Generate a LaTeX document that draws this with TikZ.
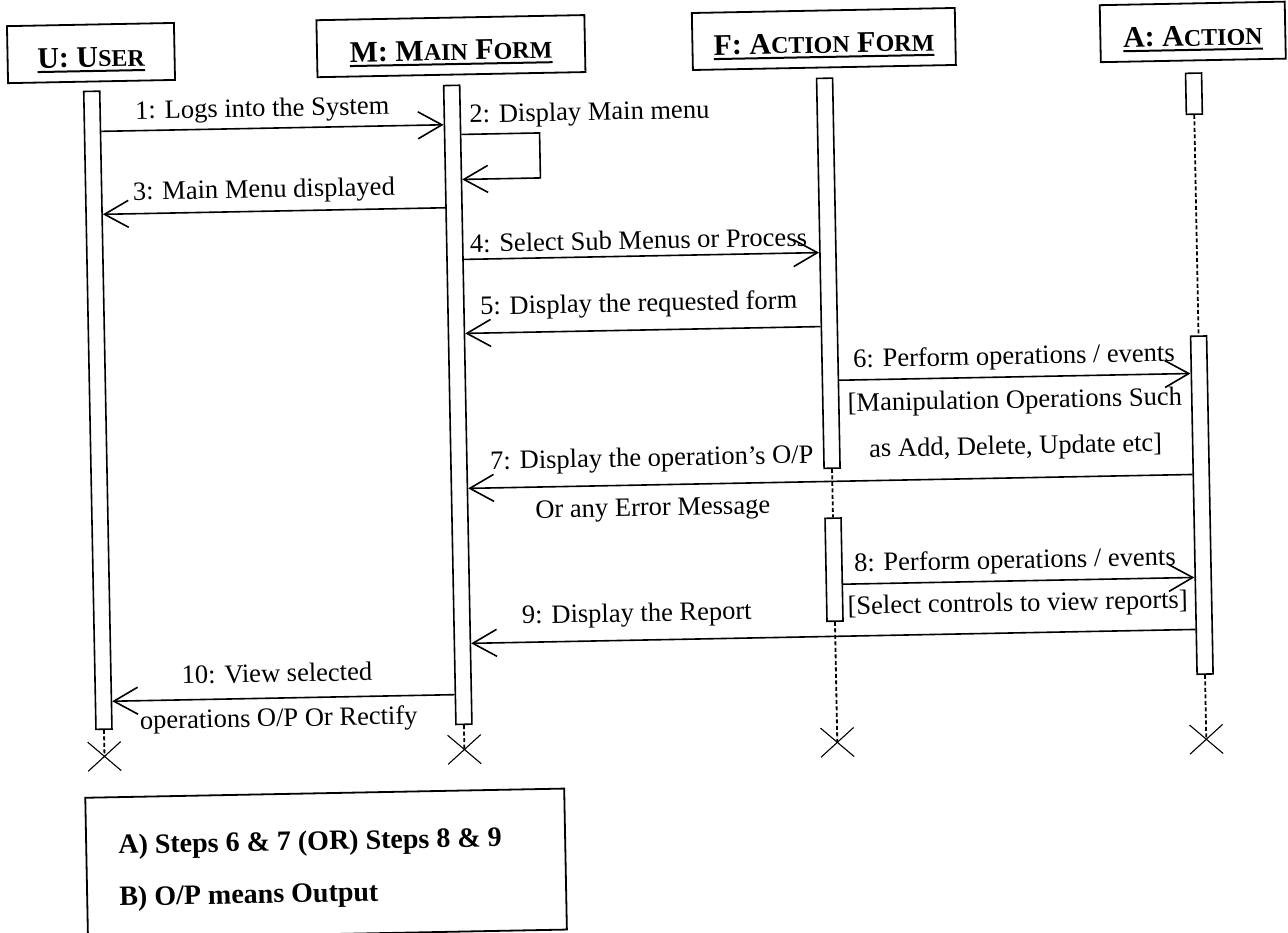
\documentclass[tikz,border=0pt]{standalone}
\usepackage{fontspec}
\setmainfont{Liberation Serif}
\usetikzlibrary{arrows.meta,shapes.misc}

% reduced capitals for the header titles
\newcommand\smc[1]{{\fontsize{24}{24}\selectfont #1}}
% underlined title, set low in its box
\newcommand\hdrline[1]{\raisebox{-14pt}[0pt][0pt]{\setbox0=\hbox{#1}\dp0=0pt\vtop{\copy0\kern3pt\hrule height 2pt width \wd0}}}

\tikzset{
  hdrbox/.style={draw, line width=1.8pt, minimum height=57pt, inner sep=0pt,
    font=\fontsize{30}{30}\selectfont\bfseries},
  bar/.style={draw, fill=white, line width=1.6pt, minimum width=16pt, inner sep=0pt, anchor=north},
  msg/.style={line width=1.6pt, -{Straight Barb[length=24pt,width=27pt]}},
  lbl/.style={inner sep=0pt, font=\fontsize{26.5}{26.5}\selectfont},
  life/.style={line width=1.8pt, dash pattern=on 4pt off 2.5pt},
  endx/.style={draw, cross out, line width=1.1pt, minimum width=32pt, minimum height=28pt, inner sep=0pt},
  keybox/.style={draw, line width=1.8pt, inner sep=0pt},
  keytxt/.style={inner sep=0pt, anchor=west, font=\fontsize{28}{28}\selectfont\bfseries},
}

\begin{document}
\begin{tikzpicture}[x=1pt, y=-1pt]
\useasboundingbox (0,0) rectangle (1288,933);
\begin{scope}[rotate around={1.1:(644,466)}, transform shape]

% object headers
\node[hdrbox, minimum width=167pt] (U) at (99,42.5)   {\hdrline{U: U\smc{SER}}};
\node[hdrbox, minimum width=268pt] (M) at (459,42.5)  {\hdrline{M: M\smc{AIN} F\smc{ORM}}};
\node[hdrbox, minimum width=263pt] (F) at (832,42.5)  {\hdrline{F: A\smc{CTION} F\smc{ORM}}};
\node[hdrbox, minimum width=185pt] (A) at (1201,42.5) {\hdrline{A: A\smc{CTION}}};

% activation bars
\node[bar, minimum height=638pt] (ub)  at (99,80)   {};
\node[bar, minimum height=639pt] (mb)  at (459,81)  {};
\node[bar, minimum height=390pt] (fb1) at (832,81)  {};
\node[bar, minimum height=103pt] (fb2) at (832,521) {};
\node[bar, minimum height=41pt]  (ab1) at (1201,83) {};
\node[bar, minimum height=338pt] (ab2) at (1201,346) {};

% destruction marks
\node[endx] (ux) at (99,746)   {};
\node[endx] (mx) at (459,746)  {};
\node[endx] (fx) at (832,746)  {};
\node[endx] (ax) at (1201,750) {};

% dashed lifelines
\draw[life] (ub.south) -- (ux.center);
\draw[life] (mb.south) -- (mx.center);
\draw[life] (fb1.south) -- (fb2.north);
\draw[life] (fb2.south) -- (fx.center);
\draw[life] (ab1.south) -- (ab2.north);
\draw[life] (ab2.south) -- (ax.center);

% messages
\draw[msg] (ub.east |- 0,121) -- (mb.west |- 0,121);
\coordinate (s2a) at (546,131);
\coordinate (s2b) at (546,176);
\draw[msg] (mb.east |- s2a) -- (s2a) -- (s2b) -- (mb.east |- s2b);
\draw[msg] (mb.west |- 0,204) -- (ub.east |- 0,204);
\draw[msg] (mb.east |- 0,256) -- (fb1.west |- 0,256);
\draw[msg] (fb1.west |- 0,330) -- (mb.east |- 0,330);
\draw[msg] (fb1.east |- 0,384) -- (ab2.west |- 0,384);
\draw[msg] (ab2.west |- 0,485) -- (mb.east |- 0,485);
\draw[msg] (fb2.east |- 0,588) -- (ab2.west |- 0,588);
\draw[msg] (ab2.west |- 0,640) -- (mb.east |- 0,640);
\draw[msg] (mb.west |- 0,691) -- (ub.east |- 0,691);

% message labels
\node[lbl, anchor=west] (l1) at (142,103) {1: Logs into the System};
\node[lbl, anchor=west] (l2) at (476,113) {2: Display Main menu};
\node[lbl, anchor=west] (l3) at (138,184) {3: Main Menu displayed};
\node[lbl, anchor=west] (l4) at (474,240) {4: Select Sub Menus or Process};
\node[lbl, anchor=west] (l5) at (483,305) {5: Display the requested form};
\node[lbl] (l6a) at (1016,365) {6: Perform operations / events};
\node[lbl] (l6b) at (1016,409) {[Manipulation Operations Such};
\node[lbl] (l6c) at (1016,455) {as Add, Delete, Update etc]};
\node[lbl] (l7a) at (652,460) {7: Display the operation's O/P};
\node[lbl] (l7b) at (652,510) {Or any Error Message};
\node[lbl] (l8a) at (1013,569) {8: Perform operations / events};
\node[lbl] (l8b) at (1015,612) {[Select controls to view reports]};
\node[lbl] (l9) at (634,615) {9: Display the Report};
\node[lbl] (l10a) at (273,666) {10: View selected};
\node[lbl] (l10b) at (274,713) {operations O/P Or Rectify};

% key
\node[keybox, minimum width=479pt, minimum height=141pt] (key) at (318.5,857.5) {};
\node[keytxt] (ka) at (111,837) {A) Steps 6 \& 7 (OR) Steps 8 \& 9};
\node[keytxt] (kb) at (111,889) {B) O/P means Output};

\end{scope}
\end{tikzpicture}
\end{document}
